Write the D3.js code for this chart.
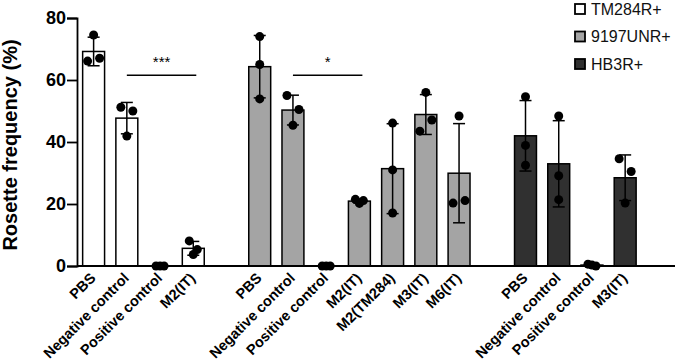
<!DOCTYPE html>
<html>
<head>
<meta charset="utf-8">
<script src="https://cdn.jsdelivr.net/npm/d3@7"></script>
<style>
  body { margin: 0; background: #fff; }
  svg { display: block; font-family: "Liberation Sans", Arial, sans-serif; }
</style>
</head>
<body>
<svg width="677" height="361"></svg>
<script>
// strains (legend order)
var strains = ["TM284R+", "9197UNR+", "HB3R+"];

// treatments per strain
var tm284Labels = ["PBS", "Negative control", "Positive control", "M2(IT)"];
var unrLabels = ["PBS", "Negative control", "Positive control", "M2(IT)", "M2(TM284)", "M3(IT)", "M6(IT)"];
var hb3Labels = ["PBS", "Negative control", "Positive control", "M3(IT)"];

// rosette frequency (%), three replicates per treatment
var tm284Values = [[66.1, 74.5, 67.0], [51.2, 41.9, 50.0], [0, 0, 0], [8.1, 3.7, 5.3]];
var unrValues = [[74.0, 65.0, 53.9], [55.0, 50.5, 45.4], [0, 0, 0], [21.5, 20.2, 21.1],
                 [46.1, 31.0, 17.1], [56.0, 43.5, 47.1], [48.4, 20.3, 21.1]];
var hb3Values = [[54.6, 38.9, 32.5], [48.4, 29.1, 21.4], [0.6, 0.3, 0], [34.6, 30.5, 20.3]];

// significance brackets: strain index, from / to treatment, height, label
var sigBrackets = [
    {strain: 0, from: 1, to: 3, y: 61.5, label: "***"},
    {strain: 1, from: 1, to: 3, y: 61.5, label: "*"}
];

var yTicks = [0, 20, 40, 60, 80];

var fills = ["#ffffff", "#a4a4a4", "#303030"];

var svg = d3.select("svg"),
    margin = {top: 18, right: 2, bottom: 95, left: 77},
    width = +svg.attr("width") - margin.left - margin.right,
    height = +svg.attr("height") - margin.top - margin.bottom;

// lay the bars out in slots, one empty slot between strains and one at the end
var rows = [];
var slot = 0;
[tm284Labels, unrLabels, hb3Labels].forEach(function (labels, g) {
    var vals = [tm284Values, unrValues, hb3Values][g];
    labels.forEach(function (lab, i) {
        rows.push({strain: g, idx: i, label: lab, values: vals[i], slot: slot,
                   mean: d3.mean(vals[i]), sd: d3.deviation(vals[i])});
        slot++;
    });
    slot++;
});
var nSlots = slot;

var x = d3.scaleLinear().domain([0, nSlots]).range([0, width]);
var y = d3.scaleLinear().domain([0, 80]).range([height, 0]);
var step = x(1) - x(0);
var barW = step * 0.66;
function cx(d) { return x(d.slot + 0.5); }

var g = svg.append("g").attr("transform", "translate(" + margin.left + "," + margin.top + ")");

// bars
g.selectAll(".bar").data(rows).enter().append("rect")
    .attr("class", "bar")
    .attr("x", function (d) { return cx(d) - barW / 2; })
    .attr("width", barW)
    .attr("y", function (d) { return y(d.mean); })
    .attr("height", function (d) { return y(0) - y(d.mean); })
    .attr("fill", function (d) { return fills[d.strain]; })
    .attr("stroke", "#000")
    .attr("stroke-width", 1.5);

// error bars (mean +/- SD)
var eb = g.selectAll(".err").data(rows.filter(function (d) { return d.sd > 0.5; }))
    .enter().append("g").attr("class", "err")
    .attr("stroke", "#000").attr("stroke-width", 1.5);
eb.append("line")
    .attr("x1", cx).attr("x2", cx)
    .attr("y1", function (d) { return y(d.mean + d.sd); })
    .attr("y2", function (d) { return y(Math.max(0, d.mean - d.sd)); });
eb.append("line")
    .attr("x1", function (d) { return cx(d) - 6; }).attr("x2", function (d) { return cx(d) + 6; })
    .attr("y1", function (d) { return y(d.mean + d.sd); })
    .attr("y2", function (d) { return y(d.mean + d.sd); });
eb.append("line")
    .attr("x1", function (d) { return cx(d) - 6; }).attr("x2", function (d) { return cx(d) + 6; })
    .attr("y1", function (d) { return y(d.mean - d.sd); })
    .attr("y2", function (d) { return y(d.mean - d.sd); })
    .attr("display", function (d) { return d.mean - d.sd > 0 ? null : "none"; });

// scatter dots, spread sideways when they would overlap
var dots = [];
rows.forEach(function (d) {
    var order = d3.range(d.values.length).sort(function (a, b) { return d.values[a] - d.values[b]; });
    var clusters = [[order[0]]];
    for (var k = 1; k < order.length; k++) {
        var last = clusters[clusters.length - 1];
        if (Math.abs(y(d.values[order[k]]) - y(d.values[last[last.length - 1]])) < 15) last.push(order[k]);
        else clusters.push([order[k]]);
    }
    clusters.forEach(function (c) {
        c.sort(d3.ascending);
        var gap = c.length === 2 ? 12 : 4;
        c.forEach(function (vi, j) {
            dots.push({x: cx(d) + (j - (c.length - 1) / 2) * gap, v: d.values[vi]});
        });
    });
});
g.selectAll(".dot").data(dots).enter().append("circle")
    .attr("class", "dot")
    .attr("cx", function (d) { return d.x; })
    .attr("cy", function (d) { return y(d.v); })
    .attr("r", 4.5)
    .attr("fill", "#000");

// axes
var yAxis = g.append("g").call(d3.axisLeft(y).tickValues(yTicks).tickSize(10).tickPadding(1));
yAxis.select(".domain").attr("stroke-width", 1.8);
yAxis.selectAll(".tick line").attr("stroke-width", 1.8);
yAxis.selectAll("text").attr("font-size", 18).attr("font-weight", "bold").attr("fill", "#000")
    .style("font-family", "'Liberation Sans', Arial, sans-serif");

g.append("line")
    .attr("x1", 0).attr("x2", width)
    .attr("y1", y(0)).attr("y2", y(0))
    .attr("stroke", "#000").attr("stroke-width", 1.8);

g.selectAll(".xlab").data(rows).enter().append("text")
    .attr("class", "xlab")
    .attr("transform", function (d) { return "translate(" + (cx(d) + 3) + "," + (y(0) + 13) + ") rotate(-45)"; })
    .attr("text-anchor", "end")
    .attr("font-size", 14.5)
    .attr("font-weight", "bold")
    .text(function (d) { return d.label; });

svg.append("text")
    .attr("transform", "translate(17," + (margin.top + height / 2 + 3) + ") rotate(-90)")
    .attr("text-anchor", "middle")
    .attr("font-size", 20)
    .attr("font-weight", "bold")
    .text("Rosette frequency (%)");

// significance brackets
sigBrackets.forEach(function (s) {
    var a = rows.find(function (r) { return r.strain === s.strain && r.idx === s.from; });
    var b = rows.find(function (r) { return r.strain === s.strain && r.idx === s.to; });
    var x1 = cx(a), x2 = cx(b) + 3;
    g.append("line")
        .attr("x1", x1).attr("x2", x2)
        .attr("y1", y(s.y)).attr("y2", y(s.y))
        .attr("stroke", "#000").attr("stroke-width", 1.5);
    g.append("text")
        .attr("x", (x1 + x2) / 2).attr("y", y(s.y) - 8)
        .attr("text-anchor", "middle")
        .attr("font-size", 15)
        .text(s.label);
});

// legend
var legend = svg.append("g").attr("transform", "translate(575,4)");
strains.forEach(function (s, i) {
    var item = legend.append("g").attr("transform", "translate(0," + i * 27.5 + ")");
    item.append("rect")
        .attr("width", 10).attr("height", 10)
        .attr("fill", fills[i]).attr("stroke", "#000").attr("stroke-width", 1.8);
    item.append("text")
        .attr("x", 16).attr("y", 10.5)
        .attr("font-size", 16)
        .attr("fill", "#111")
        .text(s);
});
</script>
</body>
</html>
